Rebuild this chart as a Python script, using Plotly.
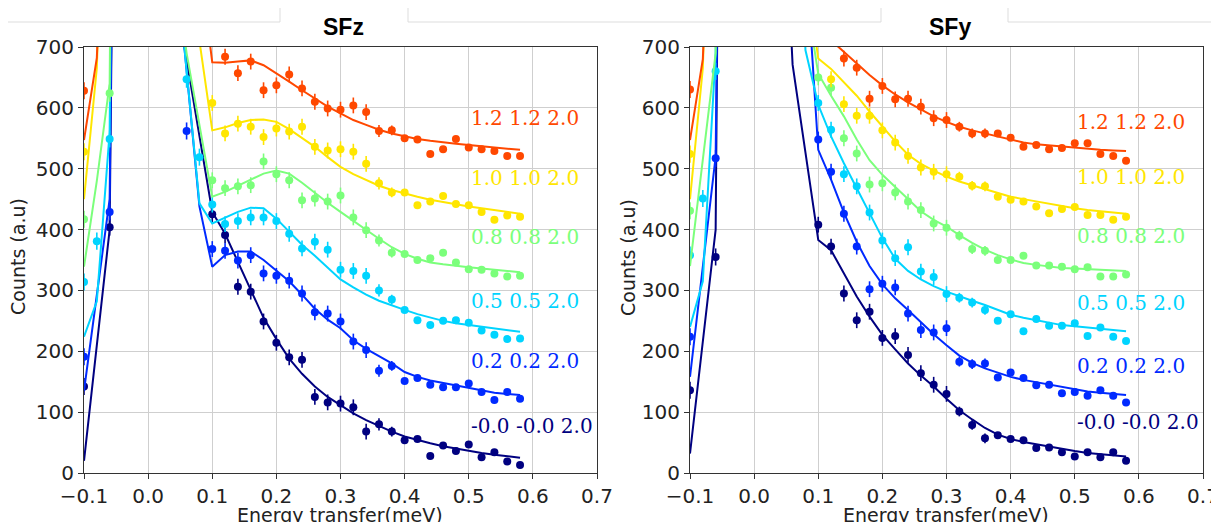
import plotly.graph_objects as go

# ---------------- data ----------------
energy = [-0.10, -0.08, -0.06, -0.04, -0.02, 0.00, 0.02, 0.04, 0.06, 0.08,
          0.10, 0.12, 0.14, 0.16, 0.18, 0.20, 0.22, 0.24, 0.26, 0.28,
          0.30, 0.32, 0.34, 0.36, 0.38, 0.40, 0.42, 0.44, 0.46, 0.48,
          0.50, 0.52, 0.54, 0.56, 0.58]

err_sfz = [14, 14, 14, 14, 14, 14, 14, 14, 14, 14, 13, 13, 13, 13, 13, 13, 13, 13,
           13, 13, 13, 13, 13, 10, 8, 4, 4, 4, 4, 4, 4, 4, 4, 4, 4]
err_sfy = [14, 14, 14, 14, 14, 14, 14, 14, 14, 14, 13, 13, 13, 13, 13, 13, 13, 13,
           13, 13, 13, 8, 8, 8, 4, 4, 4, 4, 4, 4, 4, 4, 4, 4, 4]

labels = ["-0.0 -0.0 2.0", "0.2 0.2 2.0", "0.5 0.5 2.0",
          "0.8 0.8 2.0", "1.0 1.0 2.0", "1.2 1.2 2.0"]
colors = ["#000080", "#002aff", "#00d4ff", "#7bff7b", "#ffe600", "#ff4800"]

N = None
# ---- SFz panel ----
sfz_pts_q00 = [142, N, 404, N, N, N, N, N, N, N, 425, 391, 306, 298, 249, 214, 190, 186, 125, 116,
               114, 108, 68, 80, 68, 54, 56, 28, 45, 36, 47, 26, 34, 19, 13]
sfz_fit_q00 = [20, 210, 400, 2500, 6000, 8000, 3000, 800, 679, 554, 429, 393, 346, 300, 255, 220, 188, 163,
               142, 125, 111, 98, 87, 77, 68, 60, 54, 49, 44, 40, 37, 33, 30, 28, 25]
sfz_pts_q02 = [191, N, 429, N, N, N, N, N, 562, N, 368, 365, 349, 358, 328, 324, 316, 295, 264, 262,
               249, 216, 202, 168, 176, 151, 156, 145, 141, 141, 147, 133, 120, 133, 122]
sfz_fit_q02 = [135, 290, 450, 2500, 6000, 8000, 3000, 884, 661, 438, 339, 358, 364, 364, 350, 332, 315, 293,
               270, 252, 238, 218, 204, 192, 180, 166, 158, 152, 148, 143, 139, 135, 132, 130, 128]
sfz_pts_q05 = [314, 381, 549, N, N, N, N, N, 647, 519, 441, 409, 414, 420, 420, 414, 393, 369, 380, 367,
               334, 332, 324, 300, 285, 268, 251, 243, 250, 251, 247, 234, 227, 220, 221]
sfz_fit_q05 = [224, 282, 560, 2500, 6000, 8000, 3000, 880, 661, 443, 410, 420, 429, 436, 435, 418, 396, 375,
               357, 337, 318, 305, 293, 283, 275, 268, 261, 255, 250, 246, 243, 240, 237, 234, 232]
sfz_pts_q08 = [417, N, 624, N, N, N, N, N, N, N, 481, 468, 471, 473, 512, 491, 481, 448, 451, 446,
               456, 420, 399, 382, 362, 360, 350, 353, 362, 346, 335, 334, 328, 323, 324]
sfz_fit_q08 = [339, 480, 640, 2500, 6000, 8000, 3000, 850, 690, 570, 454, 462, 472, 482, 492, 497, 492, 477,
               460, 444, 429, 414, 399, 385, 371, 360, 352, 346, 343, 340, 338, 336, 334, 332, 330]
sfz_pts_q10 = [528, N, N, N, N, N, N, N, N, N, 608, 558, 574, 569, 552, 566, 561, 569, 536, 530,
               532, 528, 508, 476, 461, 461, 440, 446, 455, 442, 440, 429, 416, 423, 421]
sfz_fit_q10 = [450, 665, 1300, 3000, 6000, 8000, 4000, 2000, 1200, 710, 563, 568, 575, 580, 581, 577, 565, 551,
               536, 519, 503, 491, 481, 472, 465, 459, 454, 449, 445, 441, 438, 435, 432, 429, 426]
sfz_pts_q12 = [628, N, N, N, N, N, N, N, N, N, N, 684, 657, 676, 629, 637, 655, 632, 610, 599,
               597, 604, 593, 562, 563, 550, 548, 524, 532, 549, 535, 532, 529, 521, 521]
sfz_fit_q12 = [547, 682, 1200, 3000, 6000, 8000, 4000, 2000, 1200, 842, 675, 674, 676, 678, 670, 657, 643, 629,
               615, 602, 591, 580, 572, 564, 558, 553, 549, 546, 543, 541, 539, 537, 535, 533, 531]

# ---- SFy panel ----
sfy_pts_q00 = [136, N, 355, N, N, N, N, N, N, N, 408, 372, 295, 251, 265, 222, 225, 194, 164, 145,
               130, 101, 79, 57, 62, 56, 54, 41, 42, 34, 27, 34, 26, 34, 20]
sfy_fit_q00 = [32, 215, 400, 3000, 8000, 9000, 4000, 1100, 671, 527, 383, 366, 328, 290, 257, 227, 203, 180,
               160, 142, 122, 103, 88, 74, 63, 56, 51, 47, 43, 40, 36, 33, 31, 29, 27]
sfy_pts_q02 = [224, N, 517, N, N, N, N, N, N, N, 548, 495, 426, 372, 302, 311, 305, 262, 235, 231,
               238, 183, 179, 180, 157, 165, 156, 144, 145, 131, 133, 127, 136, 127, 116]
sfy_fit_q02 = [158, 340, 520, 2500, 8000, 9000, 4000, 2000, 1200, 860, 531, 482, 428, 380, 340, 310, 287, 268,
               248, 228, 210, 193, 181, 172, 165, 158, 153, 149, 145, 141, 137, 134, 132, 130, 128]
sfy_pts_q05 = [358, 451, 660, N, N, N, N, N, N, N, 608, 564, 491, 471, 428, 382, 353, 371, 331, 322,
               294, 288, 280, 268, 250, 261, 233, 253, 242, 242, 246, 225, 239, 224, 217]
sfy_fit_q05 = [240, 315, 690, 2500, 8000, 9000, 4000, 2500, 1500, 695, 605, 553, 509, 468, 427, 386, 352, 332,
               318, 307, 298, 290, 283, 276, 268, 260, 255, 251, 246, 243, 241, 239, 237, 235, 233]
sfy_pts_q08 = [431, N, N, N, N, N, N, N, N, N, 650, 633, 550, 525, 474, 476, 461, 446, 432, 410,
               403, 390, 368, 365, 350, 350, 357, 341, 341, 339, 335, 338, 323, 323, 326]
sfy_fit_q08 = [340, 515, 690, 2500, 8000, 9000, 4000, 2500, 1500, 790, 656, 620, 586, 548, 514, 490, 470, 449,
               430, 416, 405, 391, 378, 367, 358, 351, 345, 342, 339, 337, 336, 335, 334, 333, 332]
sfy_pts_q10 = [524, N, N, N, N, N, N, N, N, N, N, 647, 606, 587, 587, 563, 543, 521, 502, 495,
               491, 487, 472, 471, 454, 449, 446, 438, 427, 434, 437, 424, 424, 416, 421]
sfy_fit_q10 = [450, 665, 1300, 3000, 8000, 9000, 4000, 2500, 1500, 833, 681, 664, 642, 620, 594, 569, 545, 523,
               508, 497, 487, 479, 473, 467, 460, 454, 450, 446, 443, 439, 435, 432, 430, 428, 426]
sfy_pts_q12 = [630, N, N, N, N, N, N, N, N, N, N, N, 681, 666, 615, 636, 614, 615, 602, 583,
               580, 569, 558, 558, 558, 551, 536, 539, 532, 534, 542, 542, 524, 521, 513]
sfy_fit_q12 = [547, 680, 1200, 3000, 8000, 9000, 4000, 2500, 1500, 1000, 750, 711, 692, 672, 654, 637, 622, 609,
               597, 586, 577, 569, 563, 558, 552, 547, 543, 540, 538, 536, 534, 532, 531, 530, 529]

sfz_label_y = [78, 184, 283, 387, 484, 584]
sfy_label_y = [83, 176, 280, 390, 486, 576]
label_x = 0.5

xtick_vals = [-0.1, 0.0, 0.1, 0.2, 0.3, 0.4, 0.5, 0.6, 0.7]
xtick_text = ["\u22120.1", "0.0", "0.1", "0.2", "0.3", "0.4", "0.5", "0.6", "0.7"]
ytick_vals = [0, 100, 200, 300, 400, 500, 600, 700]

sfz_pts = [sfz_pts_q00, sfz_pts_q02, sfz_pts_q05, sfz_pts_q08, sfz_pts_q10, sfz_pts_q12]
sfz_fit = [sfz_fit_q00, sfz_fit_q02, sfz_fit_q05, sfz_fit_q08, sfz_fit_q10, sfz_fit_q12]
sfy_pts = [sfy_pts_q00, sfy_pts_q02, sfy_pts_q05, sfy_pts_q08, sfy_pts_q10, sfy_pts_q12]
sfy_fit = [sfy_fit_q00, sfy_fit_q02, sfy_fit_q05, sfy_fit_q08, sfy_fit_q10, sfy_fit_q12]

# ---------------- figure ----------------
# The page body has an 8px margin, so the figure starts at (8, 8) of the window.
OFF = 8
W, H = 1219 - OFF, 522 - OFF


def px(x):
    return (x - OFF) / W


def py(y):
    return 1 - (y - OFF) / H


fig = go.Figure()

panels = [
    ("x", "y", sfz_pts, sfz_fit, err_sfz, sfz_label_y),
    ("x2", "y2", sfy_pts, sfy_fit, err_sfy, sfy_label_y),
]

annotations = []
for xa, ya, pts, fits, err, laby in panels:
    for i in range(6):
        c = colors[i]
        fig.add_trace(go.Scatter(
            x=energy, y=pts[i], mode="markers", xaxis=xa, yaxis=ya,
            marker=dict(size=8, color=c, line=dict(width=0)),
            error_y=dict(type="data", array=err, visible=True, thickness=1.6,
                         width=0, color=c),
            showlegend=False, hoverinfo="skip"))
        fig.add_trace(go.Scatter(
            x=energy, y=fits[i], mode="lines", xaxis=xa, yaxis=ya,
            line=dict(color=c, width=2),
            showlegend=False, hoverinfo="skip"))
        annotations.append(dict(
            x=label_x, y=laby[i], xref=xa, yref=ya, text=labels[i],
            showarrow=False, xanchor="left", yanchor="middle",
            font=dict(family="DejaVu Serif", size=20, color=c)))

axis_common = dict(
    showline=True, linecolor="#333333", linewidth=1, mirror=True,
    showgrid=True, gridcolor="#cfcfcf", gridwidth=1, zeroline=False,
    ticks="outside", ticklen=5, tickwidth=1, tickcolor="#333333",
    tickfont=dict(family="DejaVu Sans", size=20, color="#222222"),
    automargin=False,
)

xdom1 = [px(84), px(597)]
xdom2 = [px(690), px(1203)]
ydom = [py(473), py(47)]

fig.update_layout(
    width=W, height=H,
    margin=dict(l=0, r=0, t=0, b=0, autoexpand=False),
    paper_bgcolor="white", plot_bgcolor="white",
    showlegend=False,
    xaxis=dict(domain=xdom1, range=[-0.1, 0.7], tickvals=xtick_vals,
               ticktext=xtick_text, anchor="y", **axis_common),
    yaxis=dict(domain=ydom, range=[0, 700], tickvals=ytick_vals,
               anchor="x", **axis_common),
    xaxis2=dict(domain=xdom2, range=[-0.1, 0.7], tickvals=xtick_vals,
                ticktext=xtick_text, anchor="y2", **axis_common),
    yaxis2=dict(domain=ydom, range=[0, 700], tickvals=ytick_vals,
                anchor="x2", **axis_common),
)

title_font = dict(family="Liberation Sans, Arial", size=23, color="#000000")
label_font = dict(family="DejaVu Sans", size=19, color="#222222")

annotations += [
    dict(x=px(344), y=py(27), xref="paper", yref="paper", text="<b>SFz</b>",
         showarrow=False, xanchor="center", yanchor="middle", font=title_font),
    dict(x=px(950), y=py(27), xref="paper", yref="paper", text="<b>SFy</b>",
         showarrow=False, xanchor="center", yanchor="middle", font=title_font),
    dict(x=px(18), y=py(257), xref="paper", yref="paper", text="Counts (a.u)",
         showarrow=False, textangle=-90, xanchor="center", yanchor="middle",
         font=label_font),
    dict(x=px(628), y=py(257), xref="paper", yref="paper", text="Counts (a.u)",
         showarrow=False, textangle=-90, xanchor="center", yanchor="middle",
         font=label_font),
    dict(x=px(340), y=py(515), xref="paper", yref="paper",
         text="Energy transfer(meV)", showarrow=False, xanchor="center",
         yanchor="middle", font=label_font),
    dict(x=px(946), y=py(515), xref="paper", yref="paper",
         text="Energy transfer(meV)", showarrow=False, xanchor="center",
         yanchor="middle", font=label_font),
]
fig.update_layout(annotations=annotations)

# faint frame lines from the screenshot header (tabs)
frame_segments = [
    (8, 22, 280, 22), (280, 6, 280, 22), (408, 6, 408, 22),
    (408, 22, 881, 22), (881, 6, 881, 22), (1008, 6, 1008, 22),
    (1008, 22, 1219, 22), (1216, 22, 1216, 522),
]
shapes = []
for x0, y0, x1, y1 in frame_segments:
    shapes.append(dict(type="line", xref="paper", yref="paper",
                       x0=px(x0), y0=py(y0), x1=px(x1), y1=py(y1),
                       line=dict(color="#dddddd", width=1)))
fig.update_layout(shapes=shapes)

fig.write_html("out.html")
